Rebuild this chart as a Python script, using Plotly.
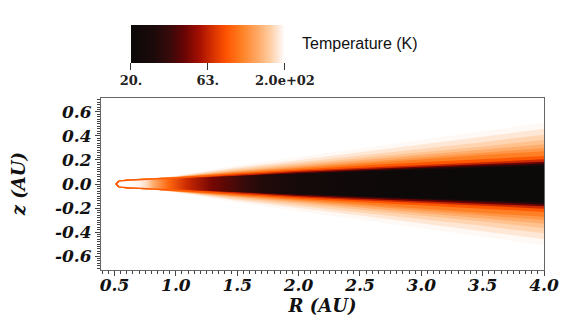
import numpy as np
import plotly.graph_objects as go

# colour map on log10(T) between 20 K and 200 K
T_MIN, T_MAX = 20.0, 200.0
CMAP = [
    [0.00, "#0c0909"], [0.15, "#1c0a0a"], [0.25, "#380a0a"], [0.35, "#6a0404"],
    [0.45, "#a81000"], [0.55, "#e03800"], [0.62, "#ff5400"], [0.72, "#ff8024"],
    [0.82, "#ffa864"], [0.90, "#ffcca0"], [0.96, "#ffeadc"], [1.00, "#ffffff"],
]
CBAR_T = [20, 63, 200]
CBAR_TEXT = ["20.", "63.", "2.0e+02"]

X_TICKS = [0.5, 1.0, 1.5, 2.0, 2.5, 3.0, 3.5, 4.0]
Y_TICKS = [-0.6, -0.4, -0.2, 0.0, 0.2, 0.4, 0.6]

R_PTS = [0.505, 0.53, 0.6, 0.8, 1.0, 1.5, 2.0, 2.5, 3.0, 3.5, 4.0]

# warm atmosphere contours (K) and their upper heights z (AU), outermost first
ATM_T = [195, 180, 165, 150, 135, 120, 105, 85]
ATM_Z = [
    [0, 0.027, 0.037, 0.046, 0.068, 0.155, 0.225, 0.295, 0.365, 0.440, 0.510],
    [0, 0.027, 0.037, 0.046, 0.065, 0.140, 0.200, 0.262, 0.325, 0.392, 0.460],
    [0, 0.027, 0.037, 0.046, 0.063, 0.128, 0.181, 0.236, 0.290, 0.348, 0.410],
    [0, 0.027, 0.037, 0.046, 0.061, 0.117, 0.165, 0.214, 0.262, 0.312, 0.365],
    [0, 0.027, 0.037, 0.046, 0.059, 0.108, 0.152, 0.196, 0.240, 0.284, 0.330],
    [0, 0.027, 0.037, 0.046, 0.058, 0.101, 0.142, 0.183, 0.222, 0.260, 0.300],
    [0, 0.027, 0.037, 0.046, 0.057, 0.095, 0.133, 0.171, 0.206, 0.242, 0.272],
    [0, 0.027, 0.037, 0.046, 0.056, 0.089, 0.123, 0.152, 0.180, 0.207, 0.233],
]

# cooler contours that only exist once the midplane has cooled
BAND_T = [65, 45, 30]
BAND_R = [
    [1.12, 1.5, 2.0, 2.5, 3.0, 3.5, 4.0],
    [1.36, 1.6, 2.0, 2.5, 3.0, 3.5, 4.0],
    [1.72, 2.0, 2.5, 3.0, 3.5, 4.0],
]
BAND_Z = [
    [0.049, 0.080, 0.110, 0.135, 0.160, 0.183, 0.205],
    [0.060, 0.076, 0.099, 0.122, 0.145, 0.166, 0.186],
    [0.075, 0.090, 0.112, 0.132, 0.151, 0.170],
]

# disk interior: half thickness and midplane temperature along R
CORE_R = [0.522, 0.54, 0.6, 0.7, 0.76, 0.81, 0.94, 1.1, 1.29, 1.54, 1.7, 2.0, 2.5, 3.0, 3.5, 4.0]
CORE_Z = [0, 0.018, 0.025, 0.030, 0.033, 0.035, 0.041, 0.049, 0.058, 0.068, 0.075, 0.086,
          0.103, 0.120, 0.137, 0.155]
CORE_T = [200, 200, 198, 190, 172, 138, 92, 64, 47, 36, 30, 24.5, 21.5, 20.5, 20, 20]


def hex_rgb(h):
    return [int(h[i:i + 2], 16) for i in (1, 3, 5)]


def t_color(t):
    f = (np.log10(t) - np.log10(T_MIN)) / (np.log10(T_MAX) - np.log10(T_MIN))
    f = min(max(f, 0.0), 1.0)
    for (p0, c0), (p1, c1) in zip(CMAP[:-1], CMAP[1:]):
        if f <= p1:
            w = (f - p0) / (p1 - p0) if p1 > p0 else 0
            a, b = hex_rgb(c0), hex_rgb(c1)
            return "rgb(%d,%d,%d)" % tuple(round(a[k] + w * (b[k] - a[k])) for k in range(3))
    return CMAP[-1][1]


def wedge(r, z):
    r, z = list(r), list(z)
    return r + r[::-1], z + [-v for v in z[::-1]]


def area(x, y, **kw):
    return go.Scatter(x=x, y=y, fill="toself", mode="lines", line=dict(width=0),
                      hoverinfo="skip", showlegend=False, **kw)


fig = go.Figure()

for t, z in zip(ATM_T, ATM_Z):
    fig.add_trace(area(*wedge(R_PTS, z), fillcolor=t_color(t)))

for t, r, z in zip(BAND_T, BAND_R, BAND_Z):
    fig.add_trace(area(*wedge(r, z), fillcolor=t_color(t)))

# interior drawn slice by slice, each slice shaded from one midplane value to the next
eps = 0.004
for i in range(len(CORE_R) - 1):
    ra, rb = CORE_R[i], CORE_R[i + 1]
    za, zb = CORE_Z[i], CORE_Z[i + 1]
    rb_ = rb + (eps if i < len(CORE_R) - 2 else 0)
    grad = [[0, t_color(CORE_T[i])], [1, t_color(CORE_T[i + 1])]]
    fig.add_trace(area([ra, rb_, rb_, ra], [za, zb, -zb, -za],
                       fillgradient=dict(type="horizontal", colorscale=grad, start=ra, stop=rb)))

# colour bar carrier (points sit outside the axis range)
lt = np.log10(CBAR_T)
fig.add_trace(go.Scatter(
    x=[10, 10], y=[0, 0], mode="markers", hoverinfo="skip", showlegend=False,
    marker=dict(color=[lt[0], lt[-1]], colorscale=CMAP, cmin=lt[0], cmax=lt[-1], showscale=True,
                colorbar=dict(orientation="h", x=0.2415, xanchor="center", y=1.424, yanchor="top",
                              len=154, lenmode="pixels", thickness=38, xpad=0, ypad=0, outlinewidth=0,
                              tickvals=list(lt), ticktext=CBAR_TEXT, ticks="outside", ticklen=7,
                              tickcolor="#333",
                              tickfont=dict(family="DejaVu Serif", size=13, weight="bold", color="#222"))),
))

fig.add_annotation(text="Temperature (K)", xref="paper", yref="paper", x=0.449, y=1.314,
                   xanchor="left", yanchor="middle", showarrow=False,
                   font=dict(family="Liberation Sans", size=16, color="#111"))

tick_font = dict(family="DejaVu Serif", size=17, weight="bold", style="italic", color="#111")
title_font = dict(family="DejaVu Serif", size=18, weight="bold", style="italic", color="#111")

# y title as a rotated note so it can sit closer to the page edge
fig.add_annotation(text="z (AU)", xref="paper", yref="paper", x=-0.187, y=0.5,
                   xanchor="center", yanchor="middle", textangle=-90, showarrow=False,
                   font=title_font)

axis_common = dict(ticks="outside", ticklen=5, tickcolor="#444", showline=True, linecolor="#666",
                   linewidth=1, mirror=True, showgrid=False, zeroline=False, tickfont=tick_font)

# page body keeps an 8 px margin, so the figure is 8 px smaller than the window
fig.update_layout(
    width=566, height=314,
    margin=dict(l=93, r=30, t=90, b=52, autoexpand=False),
    paper_bgcolor="white", plot_bgcolor="white",
    xaxis=dict(range=[0.39, 4.0], tickvals=X_TICKS, ticktext=["%.1f" % v for v in X_TICKS],
               ticklabelstandoff=-5,
               minor=dict(dtick=0.05, tick0=0, ticks="outside", ticklen=3, tickcolor="#444"),
               title=dict(text="R (AU)", font=title_font, standoff=0), **axis_common),
    yaxis=dict(range=[-0.715, 0.715], tickvals=Y_TICKS, ticktext=["%.1f" % v for v in Y_TICKS],
               minor=dict(dtick=0.02, tick0=0, ticks="outside", ticklen=3, tickcolor="#444"),
               **axis_common),
)

fig.write_html("out.html")
